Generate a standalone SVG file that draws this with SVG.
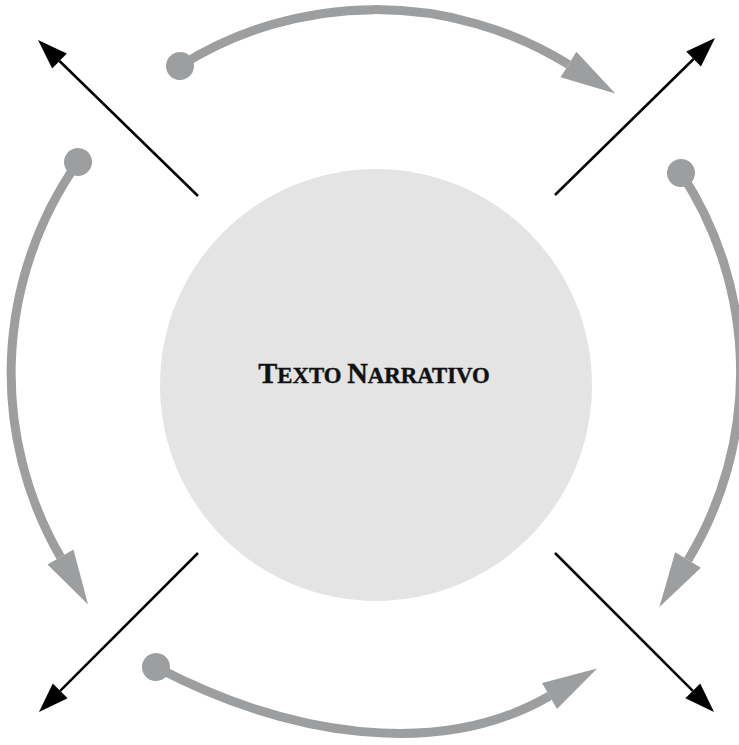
<svg xmlns="http://www.w3.org/2000/svg" width="739" height="745" viewBox="0 0 739 745">
  <style>
    .cycle { fill: none; stroke: #9d9ea0; stroke-width: 9; marker-start: url(#dot); marker-end: url(#grayHead); }
    .ray { fill: none; stroke: #000000; stroke-width: 2.5; marker-end: url(#blackHead); }
    .title { font-family: "Liberation Serif", "DejaVu Serif", serif; font-weight: bold; fill: #111111; }
  </style>
  <defs>
    <marker id="grayHead" markerUnits="userSpaceOnUse" orient="auto" refX="0" refY="0" markerWidth="60" markerHeight="32" overflow="visible">
      <path d="M0,-15 L55,0 L0,15 z" fill="#9d9ea0"/>
    </marker>
    <marker id="dot" markerUnits="userSpaceOnUse" orient="auto" refX="0" refY="0" markerWidth="30" markerHeight="30" overflow="visible">
      <circle cx="0" cy="0" r="14" fill="#9d9ea0"/>
    </marker>
    <marker id="blackHead" markerUnits="userSpaceOnUse" orient="auto" refX="0" refY="0" markerWidth="32" markerHeight="24" overflow="visible">
      <path d="M0,-10.5 L30,0 L0,10.5 z" fill="#000000"/>
    </marker>
  </defs>

  <g id="center-node">
    <circle cx="376" cy="385" r="216" fill="#e3e4e3"/>
    <text class="title" x="374" y="383" text-anchor="middle" stroke="#111111" stroke-width="0.4"><tspan font-size="28.5">T</tspan><tspan font-size="22.8">EXTO </tspan><tspan font-size="28.5">N</tspan><tspan font-size="22.8">ARRATIVO</tspan></text>
  </g>

  <g id="connectors">
    <path class="cycle" d="M180,66 A367,367 0 0 1 568.5,64.5"/>
    <path class="cycle" d="M681,173 A362,362 0 0 1 688,560"/>
    <path class="cycle" d="M156,667 C286,735 437,761 549.5,696"/>
    <path class="cycle" d="M78,162 A367,367 0 0 0 60.5,557"/>

    <path class="ray" d="M198,196 L59.5,61"/>
    <path class="ray" d="M555,195 L693.6,59"/>
    <path class="ray" d="M198,553 L60.2,690.8"/>
    <path class="ray" d="M555,553 L692.8,690.8"/>
  </g>
</svg>
